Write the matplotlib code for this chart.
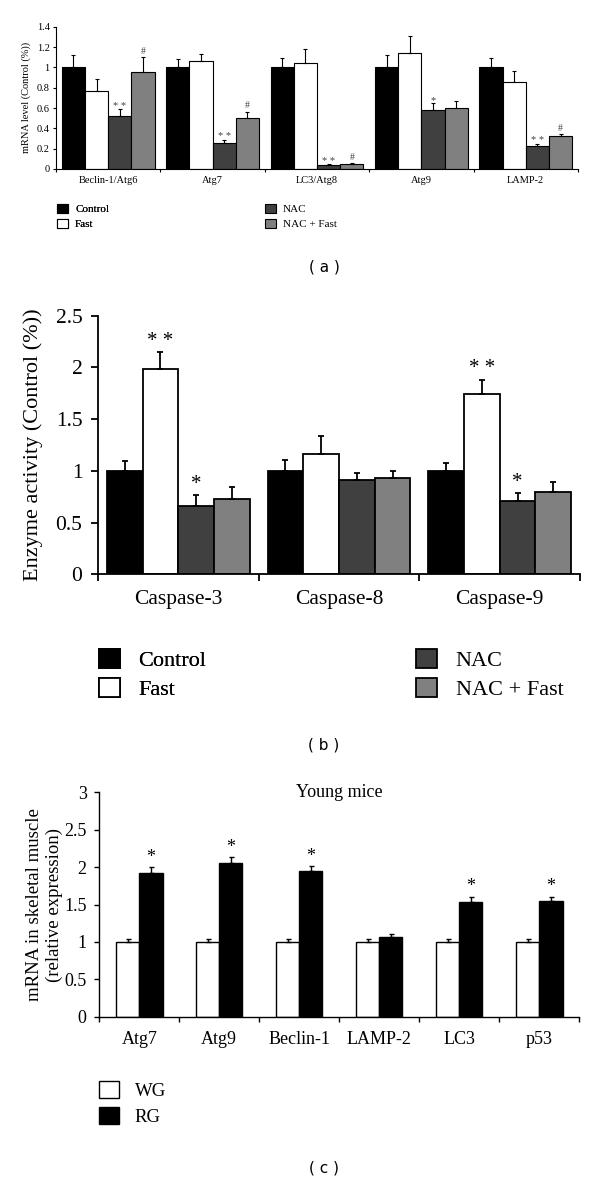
import numpy as np
import matplotlib
matplotlib.use('Agg')
import matplotlib.pyplot as plt
from matplotlib.ticker import FuncFormatter

plt.rcParams['font.family'] = ['Liberation Serif', 'DejaVu Serif']

# ---- panel (a) data: mRNA level (Control (%)) ----
genes_a = ['Beclin-1/Atg6', 'Atg7', 'LC3/Atg8', 'Atg9', 'LAMP-2']
ctrl_a = [1.0, 1.0, 1.0, 1.0, 1.0]
ctrl_a_err = [0.12, 0.085, 0.092, 0.118, 0.09]
fast_a = [0.764, 1.062, 1.04, 1.144, 0.852]
fast_a_err = [0.126, 0.072, 0.144, 0.166, 0.11]
nac_a = [0.518, 0.259, 0.036, 0.577, 0.222]
nac_a_err = [0.069, 0.026, 0.01, 0.069, 0.026]
nacfast_a = [0.951, 0.50, 0.052, 0.603, 0.32]
nacfast_a_err = [0.149, 0.064, 0.007, 0.069, 0.024]
nac_a_marks = ['* *', '* *', '* *', '*', '* *']
nacfast_a_marks = ['#', '#', '#', '', '#']

# ---- panel (b) data: enzyme activity ----
caspases = ['Caspase-3', 'Caspase-8', 'Caspase-9']
ctrl_b = [1.0, 1.0, 1.0]
ctrl_b_err = [0.092, 0.105, 0.076]
fast_b = [1.981, 1.16, 1.746]
fast_b_err = [0.165, 0.177, 0.135]
nac_b = [0.664, 0.908, 0.706]
nac_b_err = [0.103, 0.068, 0.077]
nacfast_b = [0.725, 0.934, 0.793]
nacfast_b_err = [0.122, 0.068, 0.099]
fast_b_marks = ['* *', '', '* *']
nac_b_marks = ['*', '', '*']

# ---- panel (c) data: young mice ----
genes_c = ['Atg7', 'Atg9', 'Beclin-1', 'LAMP-2', 'LC3', 'p53']
wg = [1.0, 1.0, 1.0, 1.0, 1.0, 1.0]
wg_err = [0.045, 0.045, 0.045, 0.045, 0.045, 0.045]
rg = [1.917, 2.05, 1.953, 1.07, 1.538, 1.55]
rg_err = [0.08, 0.08, 0.062, 0.035, 0.067, 0.055]
rg_marks = ['*', '*', '*', '', '*', '*']

group_names = ['Control', 'Fast', 'NAC', 'NAC + Fast']
group_colors = ['#000000', '#ffffff', '#404040', '#808080']

W, H = 600, 1182
fig = plt.figure(figsize=(W / 100, H / 100), dpi=100)


def px_axes(x0, x1, y_top, y_bot):
    return fig.add_axes([x0 / W, 1 - y_bot / H, (x1 - x0) / W, (y_bot - y_top) / H])


def style_axes(ax, ncat, labels, fs, lw, ticklen, pad, ypad, ylim, yticks):
    for s in ['top', 'right']:
        ax.spines[s].set_visible(False)
    for s in ['left', 'bottom']:
        ax.spines[s].set_linewidth(lw)
    ax.set_xlim(0, ncat)
    ax.set_ylim(*ylim)
    ax.set_yticks(yticks)
    ax.yaxis.set_major_formatter(FuncFormatter(lambda v, p: '%g' % v))
    ax.set_xticks(np.arange(ncat + 1))
    ax.set_xticklabels([])
    ax.set_xticks(np.arange(ncat) + 0.5, minor=True)
    ax.set_xticklabels(labels, minor=True, fontsize=fs)
    ax.tick_params(axis='x', which='minor', length=0, pad=pad)
    ax.tick_params(axis='x', which='major', length=ticklen, width=lw)
    ax.tick_params(axis='y', length=ticklen, width=lw, labelsize=fs, pad=ypad)


def bars(ax, series, errs, colors, width, capsize, lw, elw):
    n = len(series)
    x = np.arange(len(series[0])) + 0.5
    conts = []
    for i, (vals, err, col) in enumerate(zip(series, errs, colors)):
        xi = x + (i - (n - 1) / 2) * width
        c = ax.bar(xi, vals, width, color=col, edgecolor='black', linewidth=lw,
                   yerr=[np.zeros(len(err)), err], capsize=capsize,
                   error_kw=dict(elinewidth=elw, capthick=elw, ecolor='black'))
        conts.append((c, xi))
    return conts


def marks(ax, xs, vals, errs, syms, fs, off, color='black'):
    for x, v, e, s in zip(xs, vals, errs, syms):
        if s:
            ax.annotate(s, xy=(x, v + e), xytext=(0, off), textcoords='offset points',
                        ha='center', va='bottom', fontsize=fs, color=color)


def legend(handles, names, x, y, fs, hl, hh, tp, ls):
    return fig.legend(handles, names, loc='upper left', bbox_to_anchor=(x / W, 1 - y / H),
                      frameon=False, fontsize=fs, handlelength=hl, handleheight=hh,
                      handletextpad=tp, labelspacing=ls, borderpad=0, borderaxespad=0)


# ================= panel (a) =================
ax = px_axes(56, 578, 26.7, 169)
cont = bars(ax, [ctrl_a, fast_a, nac_a, nacfast_a],
            [ctrl_a_err, fast_a_err, nac_a_err, nacfast_a_err],
            group_colors, 0.2225, 1.2, 0.8, 0.8)
style_axes(ax, 5, genes_a, 7.5, 0.8, 2.5, 5, 2.0, (0, 1.4), np.arange(0, 1.41, 0.2))
ax.tick_params(axis='y', labelsize=7.5)
ax.set_ylabel('mRNA level (Control (%))', fontsize=7.5)
ax.yaxis.set_label_coords(-0.048, 0.5)
marks(ax, cont[2][1], nac_a, nac_a_err, nac_a_marks, 7.5, -1, '#444444')
marks(ax, cont[3][1], nacfast_a, nacfast_a_err, nacfast_a_marks, 7, 1, '#444444')
h = [c for c, _ in cont]
leg1 = legend(h[:2], group_names[:2], 57, 204, 8, 1.03, 0.8, 0.6, 0.45)
legend(h[2:], group_names[2:], 265, 204, 8, 1.03, 0.8, 0.6, 0.45)
fig.add_artist(leg1)
fig.text(324 / W, 1 - 267 / H, '( a )', ha='center', va='center', fontsize=11,
         family='DejaVu Sans')

# ================= panel (b) =================
ax = px_axes(98, 580, 315.7, 574.3)
cont = bars(ax, [ctrl_b, fast_b, nac_b, nacfast_b],
            [ctrl_b_err, fast_b_err, nac_b_err, nacfast_b_err],
            group_colors, 0.2225, 2.5, 1.3, 1.3)
style_axes(ax, 3, caspases, 15.5, 1.3, 4.8, 11, 6.5, (0, 2.5), np.arange(0, 2.51, 0.5))
ax.set_ylabel('Enzyme activity (Control (%))', fontsize=16)
ax.yaxis.set_label_coords(-0.115, 0.5)
marks(ax, cont[1][1], fast_b, fast_b_err, fast_b_marks, 15, 1)
marks(ax, cont[2][1], nac_b, nac_b_err, nac_b_marks, 15, 1)
h = [c for c, _ in cont]
leg1 = legend(h[:2], group_names[:2], 99, 649, 16, 0.95, 0.97, 0.83, 0.29)
legend(h[2:], group_names[2:], 416, 649, 16, 0.95, 0.97, 0.83, 0.29)
fig.add_artist(leg1)
fig.text(324 / W, 1 - 745 / H, '( b )', ha='center', va='center', fontsize=11,
         family='DejaVu Sans')

# ================= panel (c) =================
ax = px_axes(99.3, 579.3, 792.3, 1016.7)
cont = bars(ax, [wg, rg], [wg_err, rg_err], ['#ffffff', '#000000'], 0.29, 1.8, 1.0, 1.0)
style_axes(ax, 6, genes_c, 13, 1.0, 3.6, 10.5, 5.5, (0, 3), np.arange(0, 3.01, 0.5))
ax.set_ylabel('mRNA in skeletal muscle\n(relative expression)', fontsize=13.5, linespacing=1.2)
ax.yaxis.set_label_coords(-0.075, 0.5)
ax.text(0.5, 1.0, 'Young mice', transform=ax.transAxes, ha='center', va='center', fontsize=13)
marks(ax, cont[1][1], rg, rg_err, rg_marks, 13, 1)
h = [c for c, _ in cont]
legend(h, ['WG', 'RG'], 99, 1081, 13.5, 1.04, 1.0, 0.86, 0.38)
fig.text(324 / W, 1 - 1168 / H, '( c )', ha='center', va='center', fontsize=11,
         family='DejaVu Sans')

fig.savefig('out.png', dpi=100)
